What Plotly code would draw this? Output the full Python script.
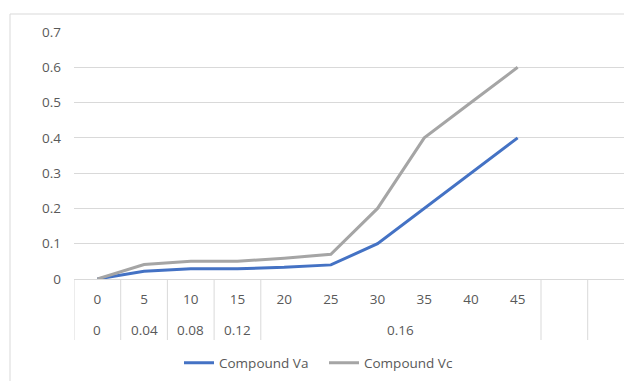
import plotly.graph_objects as go

# Sampling times (inner category level) and dose level for each time (outer level)
times = ["0", "5", "10", "15", "20", "25", "30", "35", "40", "45"]
dose = ["0", "0.04", "0.08", "0.12", "0.16", "0.16", "0.16", "0.16", "0.16", "0.16"]
extra_slots = ["\u2009", "\u2009\u2009"]  # two empty categories after the data

compound_va = [0, 0.022, 0.029, 0.029, 0.033, 0.04, 0.1, 0.2, 0.3, 0.4]
compound_vc = [0, 0.041, 0.05, 0.05, 0.059, 0.07, 0.2, 0.4, 0.5, 0.6]

y_ticks = [0, 0.1, 0.2, 0.3, 0.4, 0.5, 0.6, 0.7]

FONT = "Open Sans"
FS = 13.5
TXT = "#595959"
GRID = "#d9d9d9"

W, H = 624, 381
ML, MR, MT, MB = 74, 0, 32, 102
plot_w = W - ML - MR
plot_h = H - MT - MB
slot_px = 46.7

categories = times + extra_slots

fig = go.Figure()
fig.add_trace(go.Scatter(x=times, y=compound_va, mode="lines", name="Compound Va",
                         line=dict(color="#4472C4", width=3)))
fig.add_trace(go.Scatter(x=times, y=compound_vc, mode="lines", name="Compound Vc",
                         line=dict(color="#A5A5A5", width=3)))

# Group runs of equal dose -> outer labels and divider positions
runs = []
start = 0
for i in range(1, len(dose) + 1):
    if i == len(dose) or dose[i] != dose[start]:
        runs.append((dose[start], start, i - 1))
        start = i
bounds = [-0.5] + [end + 0.5 for _, _, end in runs]
bounds += [len(times) + k + 0.5 for k in range(len(extra_slots))]

shapes = []
div_depth = -(340 - (MT + plot_h)) / plot_h
for b in bounds:
    shapes.append(dict(type="line", xref="x", yref="paper", x0=b, x1=b, y0=0, y1=div_depth,
                       line=dict(color=GRID, width=1)))

# Outer chart frame
shapes.append(dict(type="rect", xref="paper", yref="paper",
                   x0=(10 - ML) / plot_w, x1=2, y0=-2, y1=1 + (MT - 14) / plot_h,
                   line=dict(color=GRID, width=1), fillcolor="rgba(0,0,0,0)", layer="below"))

annotations = []
row2_y = -(330 - (MT + plot_h)) / plot_h
for label, s, e in runs:
    annotations.append(dict(x=(s + e) / 2, y=row2_y, xref="x", yref="paper", text=label,
                            showarrow=False, yanchor="middle", xanchor="center",
                            font=dict(family=FONT, size=FS, color=TXT)))

fig.update_layout(
    width=W, height=H,
    margin=dict(l=ML, r=MR, t=MT, b=MB),
    paper_bgcolor="white", plot_bgcolor="white",
    font=dict(family=FONT, size=FS, color=TXT),
    showlegend=True,
    legend=dict(orientation="h", x=(324 - ML) / plot_w, xanchor="center",
                y=-(363 - (MT + plot_h)) / plot_h, yanchor="middle",
                font=dict(family=FONT, size=FS, color=TXT), itemwidth=30,
                entrywidth=100, entrywidthmode="pixels"),
    xaxis=dict(type="category", categoryorder="array", categoryarray=categories,
               range=[-0.5, -0.5 + plot_w / slot_px], showgrid=False, zeroline=False,
               showline=True, linecolor=GRID, linewidth=1, ticks="",
               tickfont=dict(family=FONT, size=FS, color=TXT), ticklabelstandoff=8),
    yaxis=dict(range=[0, 0.7], tickvals=y_ticks, ticktext=[f"{v:g}" for v in y_ticks],
               showgrid=True, gridcolor=GRID, gridwidth=1, zeroline=False, showline=False,
               ticks="", tickfont=dict(family=FONT, size=FS, color=TXT), ticklabelstandoff=12),
    shapes=shapes,
    annotations=annotations,
)

fig.write_html("out.html")
